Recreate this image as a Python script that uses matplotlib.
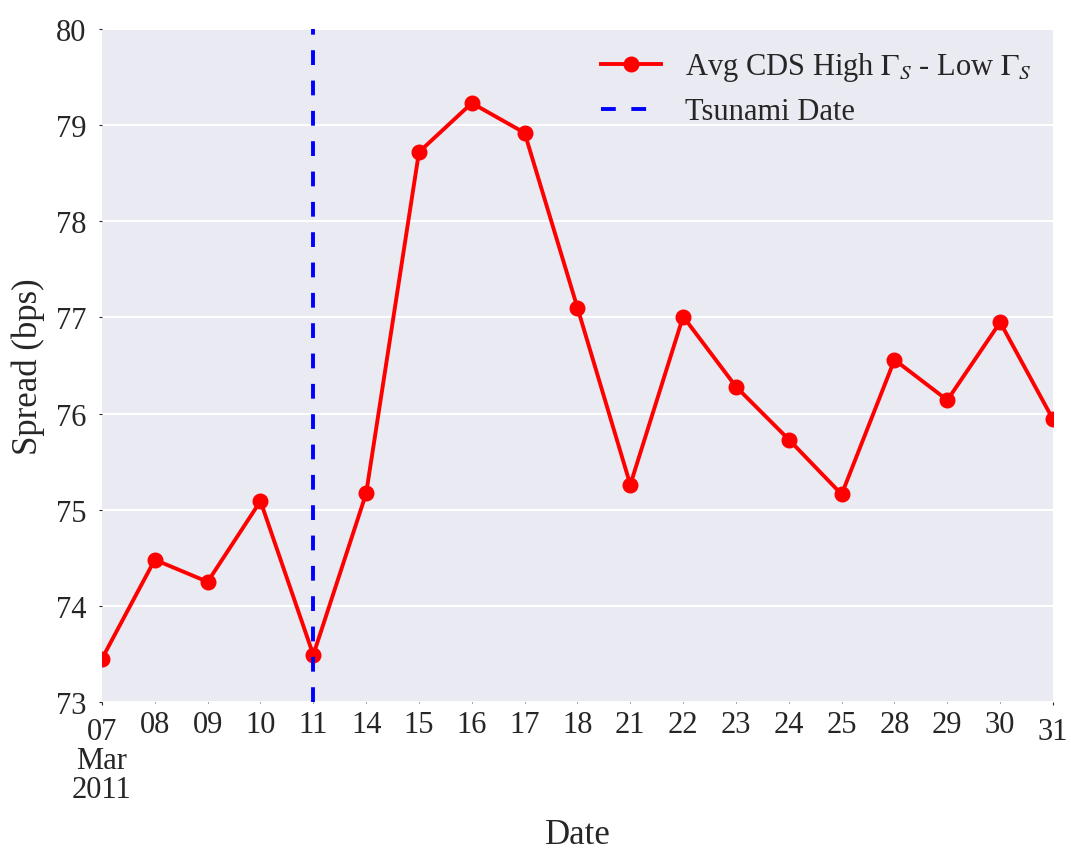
import matplotlib
matplotlib.use('Agg')
import matplotlib.pyplot as plt
import numpy as np

plt.rcParams['font.family'] = ['Liberation Serif', 'DejaVu Serif']
plt.rcParams['mathtext.fontset'] = 'stix'

# Business days in March 2011
days = ['07', '08', '09', '10', '11', '14', '15', '16', '17', '18',
        '21', '22', '23', '24', '25', '28', '29', '30', '31']
spread = [73.45, 74.48, 74.25, 75.09, 73.49, 75.17, 78.72, 79.23, 78.92, 77.10,
          75.26, 77.01, 76.28, 75.73, 75.16, 76.56, 76.14, 76.95, 75.94]
tsunami_day = '11'

x = np.arange(len(days))
txt = '#262626'

fig = plt.figure(figsize=(10.71, 8.54), dpi=100)
ax = fig.add_axes([0.0952, 0.1768, 0.888, 0.788])
ax.set_facecolor('#EAEAF2')
for s in ax.spines.values():
    s.set_visible(False)

ax.plot(x, spread, '-o', color='red', lw=2.8, ms=10.5, label=r'Avg CDS High $\Gamma_S$ - Low $\Gamma_S$')
ax.axvline(days.index(tsunami_day), color='blue', ls='--', lw=2.8, dashes=(3.8, 4.0), label='Tsunami Date')

ax.set_xlim(x[0], x[-1])
ax.set_ylim(73, 80)
ax.set_yticks(np.arange(73, 81, 1))
ax.yaxis.grid(True, color='white', lw=1.5)
ax.set_axisbelow(True)

labels = list(days)
labels[0] = '07\nMar\n2011'
ax.set_xticks([x[0], x[-1]])
ax.set_xticklabels([labels[0], labels[-1]], linespacing=1.0)
ax.set_xticks(x[1:-1], minor=True)
ax.set_xticklabels(labels[1:-1], minor=True)
ax.tick_params(axis='x', which='major', length=2, pad=9, labelsize=22, colors=txt)
ax.tick_params(axis='x', which='minor', length=1, pad=5, labelsize=22, colors=txt)
ax.tick_params(axis='y', length=2, pad=9, labelsize=22, colors=txt)

ax.set_xlabel('Date', fontsize=25, color=txt, labelpad=10)
ax.set_ylabel('Spread (bps)', fontsize=25, color=txt, labelpad=8)

leg = ax.legend(loc='upper right', frameon=False, fontsize=22, handlelength=1.95,
                labelspacing=0.45, borderaxespad=0.3)
for t in leg.get_texts():
    t.set_color(txt)

fig.savefig('out.png', dpi=100)
